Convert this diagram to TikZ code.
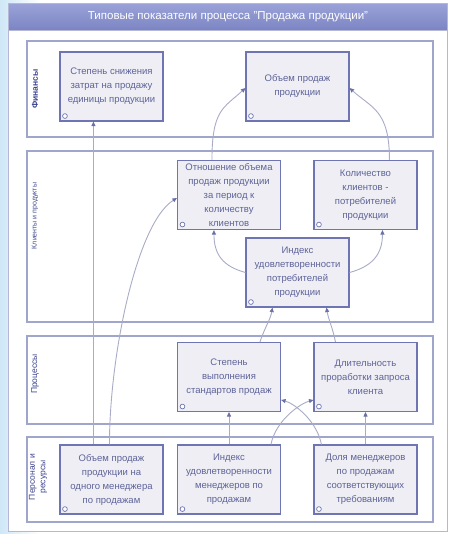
\documentclass[tikz,border=0pt]{standalone}
\usepackage{fontspec}
\setmainfont{Liberation Sans}
\usetikzlibrary{arrows.meta,calc}
\definecolor{bord}{HTML}{6E75B2}
\definecolor{lanebord}{HTML}{A0A5CC}
\definecolor{boxfill}{HTML}{EEEEF4}
\definecolor{txt}{HTML}{5E6399}
\definecolor{lbl}{HTML}{3E4690}
\definecolor{conn}{HTML}{A9ACC6}
\definecolor{tipc}{HTML}{6A70A8}
\definecolor{bgblue}{HTML}{CFE7F7}
\definecolor{paneborder}{HTML}{B4B8D6}
\definecolor{bartop}{HTML}{9AA2D8}
\definecolor{barbot}{HTML}{7C85C3}
\begin{document}
\begin{tikzpicture}[x=1pt,y=-1pt,
 kpi/.style={draw=bord, line width=1.1pt, fill=boxfill, minimum width=103pt, minimum height=69pt,
   inner sep=0pt, align=center, font=\fontsize{9.5}{14}\selectfont, text=txt},
 lane/.style={draw=lanebord, line width=1.2pt, fill=white},
 lanelbl/.style={rotate=90, text=lbl, align=center},
 link/.style={draw=conn, line width=0.9pt, -{Triangle[length=4.5pt,width=4pt,fill=tipc,color=tipc]}},
 dotst/.style={draw=bord, fill=white, line width=0.7pt}
]
\useasboundingbox (0,0) rectangle (452,534);
% background
\fill[white] (0,0) rectangle (452,534);
\shade[left color=bgblue, right color=white] (0,0) rectangle (40,534);
% outer panel
\draw[paneborder, fill=white, line width=0.8pt] (8.5,3.5) rectangle (447.5,531);
\shade[top color=bartop, bottom color=barbot, draw=paneborder] (8.5,3.5) rectangle (447.5,30);
\node[text=white, font=\fontsize{11.5}{13}\selectfont] (title) at (228,17) {Типовые показатели процесса "Продажа продукции"};

% lanes
\draw[lane] (27,41) rectangle (433,137);
\draw[lane] (27,151) rectangle (433,322);
\draw[lane] (27,336) rectangle (433,424);
\draw[lane] (27,437) rectangle (433,522);
\node[lanelbl, font=\bfseries\fontsize{8.5}{10}\selectfont] (l1) at (35,89) {Финансы};
\node[lanelbl, font=\fontsize{7}{9}\selectfont] (l2) at (35,216) {Клиенты и продукты};
\node[lanelbl, font=\fontsize{8.5}{10}\selectfont] (l3) at (35,374) {Процессы};
\node[lanelbl, font=\fontsize{8.5}{10.5}\selectfont] (l4) at (38,477) {Персонал и\\ресурсы};

% boxes
\node[kpi] (B1) at (111.5,86.5) {Степень снижения\\затрат на продажу\\единицы продукции};
\node[kpi] (B2) at (297.5,86.5) {Объем продаж\\продукции};
\node[kpi] (B3) at (229,195) {Отношение объема\\продаж продукции\\за период к\\количеству\\клиентов};
\node[kpi] (B4) at (365.5,195) {Количество\\клиентов -\\потребителей\\продукции};
\node[kpi] (B5) at (297.5,272.5) {Индекс\\удовлетворенности\\потребителей\\продукции};
\node[kpi] (B6) at (229,377) {Степень\\выполнения\\стандартов продаж};
\node[kpi] (B7) at (365.5,377) {Длительность\\проработки запроса\\клиента};
\node[kpi] (B8) at (111.5,479.5) {Объем продаж\\продукции на\\одного менеджера\\по продажам};
\node[kpi] (B9) at (229,479.5) {Индекс\\удовлетворенности\\менеджеров по\\продажам};
\node[kpi] (B10) at (365.5,479.5) {Доля менеджеров\\по продажам\\соответствующих\\требованиям};
\foreach \b in {B1,B2,B3,B4,B5,B6,B7,B8,B9,B10}
  \draw[dotst] ($(\b.south west)+(5.5,-5.5)$) circle (2.4pt);

% connectors
\draw[link] ($(B8.north west)+(34,0)$) -- ($(B1.south west)+(34,0)$);
\draw[link] ($(B8.north west)+(50,0)$) .. controls +(0,-90) and +(-40,25) .. ($(B3.west)+(0,3)$);
\draw[link] ($(B3.north west)+(35,0)$) .. controls +(0,-50) and +(-22,20) .. ($(B2.west)+(0,1.5)$);
\draw[link] ($(B4.north west)+(76,0)$) .. controls +(0,-50) and +(22,20) .. ($(B2.east)+(0,1.5)$);
\draw[link] (B5.west) .. controls +(-22,-6) and +(0,25) .. ($(B3.south west)+(37,0)$);
\draw[link] (B5.east) .. controls +(22,-6) and +(0,25) .. ($(B4.south west)+(69,0)$);
\draw[link] ($(B6.north west)+(83,0)$) .. controls +(5,-15) and +(-2,12) .. ($(B5.south west)+(27,0)$);
\draw[link] ($(B7.north west)+(22,0)$) .. controls +(-3,-15) and +(2,12) .. ($(B5.south west)+(81,0)$);
\draw[link] (B9.north) -- (B6.south);
\draw[link] (B10.north) -- (B7.south);
\draw[link] ($(B9.north west)+(94,0)$) .. controls +(5,-25) and +(-12,3) .. ($(B7.west)+(0,23)$);
\draw[link] ($(B10.north west)+(8,0)$) .. controls +(-5,-25) and +(12,3) .. ($(B6.east)+(0,23)$);
\end{tikzpicture}
\end{document}
